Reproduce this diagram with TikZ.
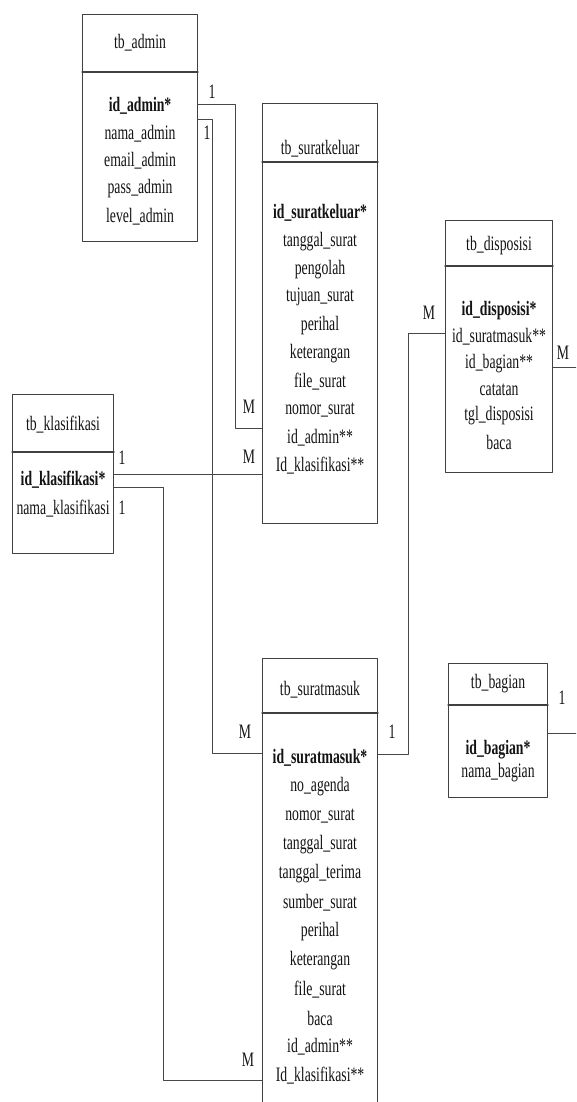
\documentclass[tikz,border=0pt]{standalone}
\usepackage{fontspec}
\setmainfont{Liberation Serif}[FakeStretch=0.67]
\begin{document}
\begin{tikzpicture}[x=1pt, y=-1pt, line join=round, line cap=round, font=\fontsize{20.5}{24}\selectfont,
  tbl/.style args={#1x#2}{draw=black!75, line width=1.1pt, minimum width=#1pt, minimum height=#2pt, anchor=north west, inner sep=0pt},
  ln/.style={draw=black!72, line width=0.9pt},
  attr/.style={inner sep=0pt, text=black!92},
  key/.style={attr, font=\fontsize{20.5}{24}\selectfont\bfseries},
  card/.style={inner sep=0pt, text=black!92}]
\useasboundingbox[fill=white] (0,0) rectangle (576,1102);
\clip (0,0) rectangle (576,1102);
% Vẽ các bảng
\node[tbl=115x227] (admin) at (82,14) {};
\node[tbl=115x420] (keluar) at (262,103) {};
\node[tbl=107x252] (dispo) at (445,220) {};
\node[tbl=101x159] (klas) at (12,394) {};
\node[tbl=115x480] (masuk) at (262,658) {};
\node[tbl=99x134] (bagian) at (448,663) {};
% kẻ ngang dưới tên bảng
\foreach \b/\y in {admin/72, keluar/162, dispo/266, klas/452, masuk/713, bagian/705}
\draw[draw=black!75, line width=1.1pt] (\b.west |- 0,\y) -- (\b.east |- 0,\y);
% tên bảng
\node[attr] at (admin.north |- 0,43) {tb\_admin};
\node[attr] at (keluar.north |- 0,149) {tb\_suratkeluar};
\node[attr] at (dispo.north |- 0,246) {tb\_disposisi};
\node[attr] at (klas.north |- 0,425) {tb\_klasifikasi};
\node[attr] at (masuk.north |- 0,690) {tb\_suratmasuk};
\node[attr] at (bagian.north |- 0,684) {tb\_bagian};
% các trường
\node[key] at (admin.north |- 0,106) {id\_admin*};
\foreach \t [count=\i, evaluate=\i as \yy using 106+27.6*\i] in
{nama\_admin, email\_admin, pass\_admin, level\_admin}
\node[attr] at (admin.north |- 0,\yy) {\t};
\node[key] at (keluar.north |- 0,213) {id\_suratkeluar*};
\foreach \t [count=\i, evaluate=\i as \yy using 213+28.1*\i] in
{tanggal\_surat, pengolah, tujuan\_surat, perihal, keterangan, file\_surat, nomor\_surat, id\_admin**, Id\_klasifikasi**}
\node[attr] at (keluar.north |- 0,\yy) {\t};
\node[key] at (dispo.north |- 0,311) {id\_disposisi*};
\foreach \t [count=\i, evaluate=\i as \yy using 311+26.2*\i] in
{id\_suratmasuk**, id\_bagian**, catatan, tgl\_disposisi, baca}
\node[attr] at (dispo.north |- 0,\yy) {\t};
\node[key] at (klas.north |- 0,480) {id\_klasifikasi*};
\node[attr] at (klas.north |- 0,509) {nama\_klasifikasi};
\node[key] at (masuk.north |- 0,758) {id\_suratmasuk*};
\foreach \t [count=\i, evaluate=\i as \yy using 758+28.9*\i] in
{no\_agenda, nomor\_surat, tanggal\_surat, tanggal\_terima, sumber\_surat, perihal, keterangan, file\_surat, baca, id\_admin**, Id\_klasifikasi**}
\node[attr] at (masuk.north |- 0,\yy) {\t};
\node[key] at (bagian.north |- 0,750) {id\_bagian*};
\node[attr] at (bagian.north |- 0,773) {nama\_bagian};
% Vẽ các đường quan hệ
\draw[ln] (admin.east |- 0,104) -| (235,428) -- (keluar.west |- 0,428);
\draw[ln] (admin.east |- 0,119) -| (212,753) -- (masuk.west |- 0,753);
\draw[ln] (klas.east |- 0,474) -- (keluar.west |- 0,474);
\draw[ln] (klas.east |- 0,487) -| (163,1080) -- (masuk.west |- 0,1080);
\draw[ln] (masuk.east |- 0,754) -| (408,333) -- (dispo.west |- 0,333);
\draw[ln] (dispo.east |- 0,367) -- (590,367);
\draw[ln] (bagian.east |- 0,733) -- (590,733);
% số 1 và M
\node[card] at (212,92) {1};
\node[card] at (207,133) {1};
\node[card] at (249,407) {M};
\node[card] at (249,457) {M};
\node[card] at (122,458) {1};
\node[card] at (122,508) {1};
\node[card] at (245,732) {M};
\node[card] at (392,732) {1};
\node[card] at (429,313) {M};
\node[card] at (563,353) {M};
\node[card] at (562,698) {1};
\node[card] at (248,1060) {M};
\end{tikzpicture}
\end{document}
